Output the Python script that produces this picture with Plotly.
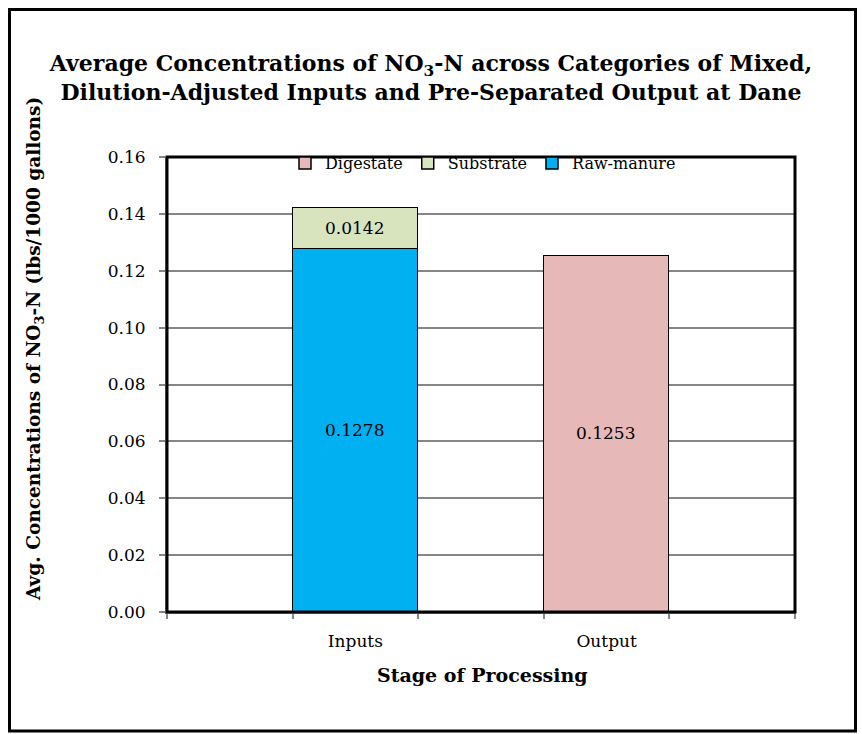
import plotly.graph_objects as go

# Data
slots = ["", "Inputs", "", "Output", ""]          # category slots along the x axis
stage_labels = ["Inputs", "Output"]
raw_manure_cat = ["Inputs"]
raw_manure_val = [0.1278]
substrate_cat = ["Inputs"]
substrate_val = [0.0142]
digestate_cat = ["Output"]
digestate_val = [0.1253]
ytick_vals = [0.00, 0.02, 0.04, 0.06, 0.08, 0.10, 0.12, 0.14, 0.16]

FONT = "DejaVu Serif"

def pos(cats):
    return [slots.index(c) for c in cats]

stage_pos = pos(stage_labels)
boundaries = [i - 0.5 for i in range(len(slots) + 1)]

fig = go.Figure()

def add_bar(name, cats, vals, color, rank):
    fig.add_trace(go.Bar(
        name=name, x=pos(cats), y=vals, width=[1] * len(vals),
        marker=dict(color=color, line=dict(color="black", width=1.5)),
        text=[f"{v:.4f}" for v in vals], textposition="inside",
        insidetextanchor="middle", textfont=dict(size=17, color="black", family=FONT),
        legendrank=rank,
    ))

add_bar("Raw-manure", raw_manure_cat, raw_manure_val, "#00B0F0", 3)
add_bar("Substrate", substrate_cat, substrate_val, "#D7E4BD", 2)
add_bar("Digestate", digestate_cat, digestate_val, "#E6B9B8", 1)

# invisible trace to activate the tick-mark axis
fig.add_trace(go.Scatter(x=[boundaries[0]], y=[0], xaxis="x2", mode="markers",
                         marker=dict(opacity=0), showlegend=False, hoverinfo="skip"))

L, R, T, B = 167, 795, 157, 612
W, H = 862, 734
pw, ph = R - L, B - T

def px_x(x):
    return (x - L) / pw

def px_y(y):
    return (B - y) / ph

xr = [boundaries[0], boundaries[-1]]

fig.update_layout(
    width=W, height=H,
    margin=dict(l=L, r=W - R, t=T, b=H - B, autoexpand=False),
    barmode="stack", bargap=0,
    paper_bgcolor="white", plot_bgcolor="white",
    font=dict(family=FONT, size=17, color="black"),
    uniformtext=dict(mode=False),
    title=dict(
        text="<b>Average Concentrations of NO<sub>3</sub>-N across Categories of Mixed,<br>Dilution-Adjusted Inputs and Pre-Separated Output at Dane</b>",
        x=0.5, xanchor="center", xref="container",
        y=1 - 71 / H, yanchor="middle", yref="container",
        font=dict(family=FONT, size=22, color="black"),
    ),
    legend=dict(
        orientation="h", x=px_x(483), xanchor="center", y=px_y(163), yanchor="middle",
        bgcolor="rgba(0,0,0,0)", font=dict(size=16, family=FONT),
        traceorder="normal", itemwidth=30,
    ),
    xaxis=dict(
        range=xr, tickvals=stage_pos, ticktext=stage_labels, ticks="",
        showgrid=False, zeroline=False,
        showline=True, linecolor="#868686", linewidth=2,
        tickfont=dict(size=17, family=FONT), fixedrange=True,
        ticklabelstandoff=13,
    ),
    xaxis2=dict(
        range=xr, overlaying="x", side="bottom", anchor="y",
        tickvals=boundaries, ticks="outside", ticklen=6,
        tickcolor="#868686", tickwidth=1.5, showticklabels=False,
        showgrid=False, zeroline=False, showline=False, fixedrange=True,
    ),
    yaxis=dict(
        range=[0, 0.16], tickvals=ytick_vals, tickformat=".2f",
        ticks="outside", ticklen=6, tickcolor="#868686", tickwidth=1.5,
        showgrid=True, gridcolor="#868686", gridwidth=1.5,
        showline=True, linecolor="#868686", linewidth=2, zeroline=False,
        tickfont=dict(size=17, family=FONT), fixedrange=True,
        ticklabelstandoff=10,
    ),
    annotations=[
        dict(text="<b>Avg. Concentrations of NO<sub>3</sub>-N (lbs/1000 gallons)</b>",
             x=px_x(35), y=px_y(349), xref="paper", yref="paper",
             textangle=-90, showarrow=False, xanchor="center", yanchor="middle",
             font=dict(size=18.5, family=FONT, color="black")),
        dict(text="<b>Stage of Processing</b>",
             x=px_x(482), y=px_y(675), xref="paper", yref="paper",
             showarrow=False, xanchor="center", yanchor="middle",
             font=dict(size=19, family=FONT, color="black")),
    ],
    shapes=[
        dict(type="rect", xref="paper", yref="paper", x0=0, x1=1, y0=0, y1=1,
             line=dict(color="black", width=3), layer="above"),
        dict(type="rect", xref="paper", yref="paper",
             x0=px_x(9.5), x1=px_x(855.5), y0=px_y(731), y1=px_y(9.5),
             line=dict(color="black", width=3), layer="above"),
    ],
    showlegend=True,
)

fig.write_html("out.html")
